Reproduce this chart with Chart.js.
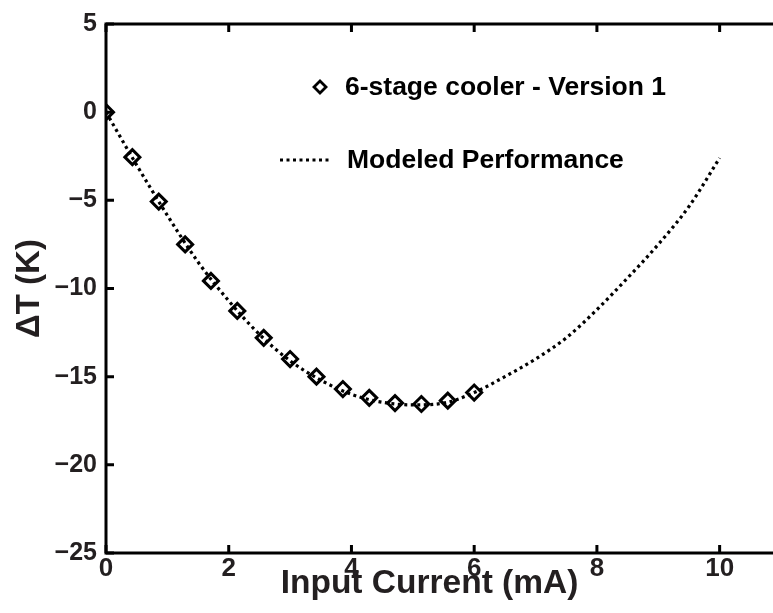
<!DOCTYPE html>
<html>
<head>
<meta charset="utf-8">
<script src="https://cdn.jsdelivr.net/npm/chart.js@4/dist/chart.umd.min.js"></script>
<style>
html,body{margin:0;padding:0;background:#fff;overflow:hidden;}
#wrap{width:773px;height:613px;overflow:hidden;position:relative;}
canvas{display:block;}
</style>
</head>
<body>
<div id="wrap"><canvas id="c" width="800" height="613"></canvas></div>
<script>
// ---- data ----
const measuredCurrent = [0, 0.43, 0.86, 1.29, 1.71, 2.14, 2.57, 3.0, 3.43, 3.86, 4.29, 4.71, 5.14, 5.57, 6.0];
const measuredDeltaT  = [0, -2.55, -5.07, -7.5, -9.57, -11.27, -12.8, -14.0, -15.0, -15.7, -16.2, -16.5, -16.55, -16.36, -15.9];
const modelCurrent = [0, 0.5, 1, 1.5, 2, 2.5, 3, 3.5, 4, 4.5, 5, 5.5, 6, 6.5, 7, 7.5, 8, 8.5, 9, 9.5, 10];
const modelDeltaT  = [0, -3.0, -5.85, -8.5, -10.7, -12.6, -14.1, -15.2, -16.0, -16.45, -16.6, -16.5, -15.9, -15.0, -14.0, -12.8, -11.2, -9.4, -7.5, -5.35, -2.6];
const xTicks = [0, 2, 4, 6, 8, 10];
const yTicks = [-25, -20, -15, -10, -5, 0, 5];
const seriesLabels = ['6-stage cooler - Version 1', 'Modeled Performance'];
const xTitle = 'Input Current (mA)';
const yTitle = '\u0394T (K)';

const FONT = '"Liberation Sans", Arial, Helvetica, sans-serif';
const TEXT = '#231f20';

const toXY = (xs, ys) => xs.map((x, i) => ({x: x, y: ys[i]}));

const framePlugin = {
  id: 'frame',
  afterDatasetsDraw(chart) {
    const {ctx, chartArea: a, scales: {x, y}} = chart;
    ctx.save();
    ctx.strokeStyle = '#000';
    ctx.lineWidth = 3;
    ctx.lineCap = 'butt';
    ctx.strokeRect(a.left, a.top, a.right - a.left, a.bottom - a.top);
    const tl = 8;
    ctx.beginPath();
    xTicks.forEach(v => {
      const px = x.getPixelForValue(v);
      ctx.moveTo(px, a.bottom); ctx.lineTo(px, a.bottom - tl);
      ctx.moveTo(px, a.top); ctx.lineTo(px, a.top + tl);
    });
    yTicks.forEach(v => {
      const py = y.getPixelForValue(v);
      ctx.moveTo(a.left, py); ctx.lineTo(a.left + tl, py);
      ctx.moveTo(a.right, py); ctx.lineTo(a.right - tl, py);
    });
    ctx.stroke();
    ctx.restore();
  }
};

const legendPlugin = {
  id: 'customLegend',
  afterDraw(chart) {
    const ctx = chart.ctx;
    const ds = chart.data.datasets;
    ctx.save();
    ctx.font = 'bold 26.5px ' + FONT;
    ctx.fillStyle = '#000';
    ctx.textBaseline = 'middle';
    ctx.textAlign = 'left';
    const r1y = 87, r2y = 160;
    ctx.strokeStyle = '#000';
    ctx.lineWidth = 2.8;
    ctx.beginPath();
    const cx = 320, h = 6;
    ctx.moveTo(cx, r1y - h); ctx.lineTo(cx + h, r1y); ctx.lineTo(cx, r1y + h); ctx.lineTo(cx - h, r1y); ctx.closePath();
    ctx.stroke();
    ctx.fillText(ds[0].label, 345, r1y + 1);
    ctx.lineWidth = 3;
    ctx.setLineDash([3, 3.5]);
    ctx.beginPath();
    ctx.moveTo(280, r2y); ctx.lineTo(329, r2y);
    ctx.stroke();
    ctx.setLineDash([]);
    ctx.fillText(ds[1].label, 347, r2y + 1);
    ctx.restore();
  }
};

new Chart(document.getElementById('c'), {
  type: 'scatter',
  data: {
    datasets: [
      {
        label: seriesLabels[0],
        data: toXY(measuredCurrent, measuredDeltaT),
        showLine: false,
        pointStyle: 'rectRot',
        pointRadius: 7.5,
        pointBorderWidth: 3,
        pointBorderColor: '#000',
        pointBackgroundColor: 'rgba(255,255,255,0)',
        order: 1
      },
      {
        label: seriesLabels[1],
        data: toXY(modelCurrent, modelDeltaT),
        showLine: true,
        borderColor: '#000',
        borderWidth: 3.2,
        borderDash: [3, 3.5],
        borderCapStyle: 'butt',
        cubicInterpolationMode: 'monotone',
        pointRadius: 0,
        fill: false,
        order: 2
      }
    ]
  },
  options: {
    responsive: false,
    animation: false,
    events: [],
    layout: {padding: {top: 19, right: 19, left: 0, bottom: 0}},
    plugins: {legend: {display: false}, tooltip: {enabled: false}},
    scales: {
      x: {
        type: 'linear',
        min: 0, max: 11,
        afterBuildTicks: s => { s.ticks = xTicks.map(v => ({value: v})); },
        afterFit: s => { s.height = 60; },
        grid: {display: false, drawTicks: false},
        border: {display: false},
        ticks: {
          padding: 0,
          color: TEXT,
          font: {family: FONT, size: 26, weight: 'bold'},
          maxRotation: 0,
          callback: v => String(v)
        },
        title: {
          display: true,
          text: xTitle + '   ',
          color: TEXT,
          font: {family: FONT, size: 33.5, weight: 'bold', lineHeight: 1},
          padding: {top: 0, bottom: 12}
        }
      },
      y: {
        type: 'linear',
        min: -25, max: 5,
        afterBuildTicks: s => { s.ticks = yTicks.map(v => ({value: v})); },
        afterFit: s => { s.width = 106; },
        grid: {display: false, drawTicks: false},
        border: {display: false},
        ticks: {
          padding: 9,
          color: TEXT,
          font: {family: FONT, size: 25, weight: 'bold'},
          callback: v => (v < 0 ? '\u2212' + Math.abs(v) : String(v))
        },
        title: {
          display: true,
          text: yTitle,
          color: TEXT,
          font: {family: FONT, size: 33, weight: 'bold', lineHeight: 1},
          padding: {top: 13, bottom: 0}
        }
      }
    }
  },
  plugins: [framePlugin, legendPlugin]
});
</script>
</body>
</html>
